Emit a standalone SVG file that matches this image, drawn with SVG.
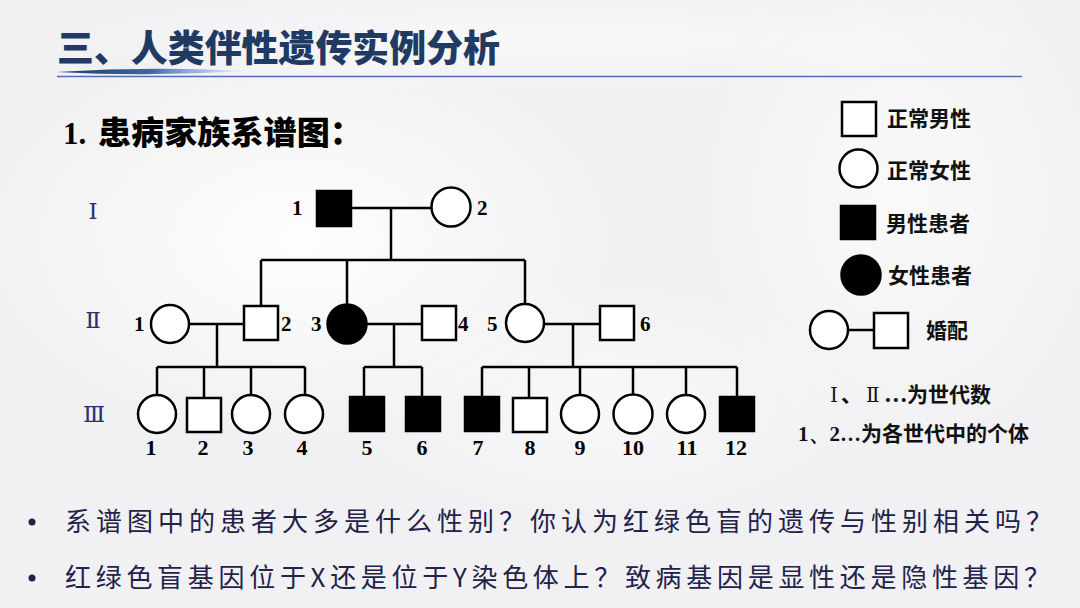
<svg xmlns="http://www.w3.org/2000/svg" width="1080" height="608" viewBox="0 0 1080 608">
<defs>
<radialGradient id="glow" cx="0.5" cy="0.5" r="0.5">
<stop offset="0" stop-color="#ffffff" stop-opacity="0.9"/>
<stop offset="1" stop-color="#ffffff" stop-opacity="0"/>
</radialGradient>
<linearGradient id="swoosh" x1="0" y1="0" x2="1" y2="0">
<stop offset="0" stop-color="#1f3a63"/>
<stop offset="0.5" stop-color="#3f66a8"/>
<stop offset="1" stop-color="#9fb6dc" stop-opacity="0.2"/>
</linearGradient>
<style>
.ln{stroke:#000;stroke-width:2.5;fill:none}
.sh{stroke:#000;stroke-width:2.5;fill:#fff}
.af{stroke:#000;stroke-width:2.5;fill:#000}
.num{font-family:"Liberation Serif","DejaVu Serif",serif;font-weight:bold;font-size:21px;fill:#000}
.n3{font-family:"Liberation Serif","DejaVu Serif",serif;font-weight:bold;font-size:22px;fill:#000;text-anchor:middle}
.gen{font-family:"DejaVu Serif","Liberation Serif",serif;font-size:23px;fill:#2e2e6e;text-anchor:middle}
.leg{font-family:"Noto Sans CJK SC",sans-serif;font-weight:700;font-size:21px;fill:#111}
.rom{font-family:"DejaVu Serif","Liberation Serif",serif;font-size:20px;fill:#111}
.q{font-family:"Noto Sans CJK SC",sans-serif;font-size:26px;fill:#22224a}
</style>
</defs>
<rect width="1080" height="608" fill="#f1f1f3"/>
<ellipse cx="300" cy="240" rx="320" ry="200" fill="url(#glow)"/>
<ellipse cx="900" cy="200" rx="200" ry="260" fill="url(#glow)" opacity="0.7"/>
<ellipse cx="600" cy="400" rx="260" ry="120" fill="url(#glow)" opacity="0.6"/>
<ellipse cx="550" cy="40" rx="500" ry="50" fill="url(#glow)" opacity="0.6"/>

<g id="title">
<text x="57" y="62" font-family="Noto Sans CJK SC, sans-serif" font-weight="900" font-size="37" fill="#1f3a63" textLength="443" lengthAdjust="spacingAndGlyphs">三、人类伴性遗传实例分析</text>
<path d="M57,72 Q150,66 245,71 Q150,77 57,72 Z" fill="url(#swoosh)"/>
<line x1="57" y1="76.5" x2="1022" y2="76.5" stroke="#4a6fb5" stroke-width="1.3"/>
</g>

<g id="subtitle">
<text x="63" y="144" font-size="31" fill="#000"><tspan font-family="Liberation Serif, serif" font-weight="bold">1. </tspan><tspan x="98" font-family="Noto Sans CJK SC, sans-serif" font-weight="900" font-size="32" textLength="265" lengthAdjust="spacingAndGlyphs">患病家族系谱图：</tspan></text>
</g>

<g id="generations">
<text class="gen" x="93" y="219">Ⅰ</text>
<text class="gen" x="93" y="328">Ⅱ</text>
<text class="gen" x="94" y="422">Ⅲ</text>
</g>

<g id="connectors">
<line class="ln" x1="352" y1="208" x2="431.5" y2="208"/>
<line class="ln" x1="391" y1="208" x2="391" y2="260"/>
<line class="ln" x1="261" y1="260" x2="525" y2="260"/>
<line class="ln" x1="261" y1="260" x2="261" y2="306"/>
<line class="ln" x1="347" y1="260" x2="347" y2="304.5"/>
<line class="ln" x1="525" y1="260" x2="525" y2="304"/>
<line class="ln" x1="189" y1="324" x2="244" y2="324"/>
<line class="ln" x1="366.5" y1="324" x2="422" y2="324"/>
<line class="ln" x1="544" y1="324" x2="600" y2="324"/>
<line class="ln" x1="217" y1="324" x2="217" y2="367"/>
<line class="ln" x1="394" y1="324" x2="394" y2="367"/>
<line class="ln" x1="573" y1="324" x2="573" y2="367"/>
<line class="ln" x1="157" y1="367" x2="305" y2="367"/>
<line class="ln" x1="157" y1="367" x2="157" y2="395"/>
<line class="ln" x1="204" y1="367" x2="204" y2="398"/>
<line class="ln" x1="251" y1="367" x2="251" y2="395"/>
<line class="ln" x1="305" y1="367" x2="305" y2="395"/>
<line class="ln" x1="364" y1="367" x2="422" y2="367"/>
<line class="ln" x1="364" y1="367" x2="364" y2="396"/>
<line class="ln" x1="422" y1="367" x2="422" y2="396"/>
<line class="ln" x1="482" y1="367" x2="737" y2="367"/>
<line class="ln" x1="482" y1="367" x2="482" y2="396"/>
<line class="ln" x1="529" y1="367" x2="529" y2="398"/>
<line class="ln" x1="580" y1="367" x2="580" y2="395"/>
<line class="ln" x1="633" y1="367" x2="633" y2="395"/>
<line class="ln" x1="686" y1="367" x2="686" y2="395"/>
<line class="ln" x1="737" y1="367" x2="737" y2="396"/>
</g>

<g id="I-1"><rect class="af" x="317" y="191" width="34" height="35"/><text class="num" x="292" y="215">1</text></g>
<g id="I-2"><circle class="sh" cx="451" cy="207" r="19.5"/><text class="num" x="477" y="215">2</text></g>

<g id="II-1"><circle class="sh" cx="170" cy="324" r="19"/><text class="num" x="134" y="331">1</text></g>
<g id="II-2"><rect class="sh" x="244" y="306" width="34" height="34"/><text class="num" x="281" y="331">2</text></g>
<g id="II-3"><circle class="af" cx="347" cy="324" r="19.5"/><text class="num" x="311" y="331">3</text></g>
<g id="II-4"><rect class="sh" x="422" y="306" width="34" height="34"/><text class="num" x="458" y="331">4</text></g>
<g id="II-5"><circle class="sh" cx="525" cy="323" r="19"/><text class="num" x="487" y="331">5</text></g>
<g id="II-6"><rect class="sh" x="600" y="306" width="34" height="34"/><text class="num" x="640" y="331">6</text></g>

<g id="III-1"><circle class="sh" cx="157" cy="414" r="19"/><text class="n3" x="151" y="455">1</text></g>
<g id="III-2"><rect class="sh" x="187" y="398" width="34" height="34"/><text class="n3" x="203" y="455">2</text></g>
<g id="III-3"><circle class="sh" cx="251" cy="414" r="19"/><text class="n3" x="248" y="455">3</text></g>
<g id="III-4"><circle class="sh" cx="304" cy="414" r="19"/><text class="n3" x="302" y="455">4</text></g>
<g id="III-5"><rect class="af" x="350" y="397" width="34" height="34"/><text class="n3" x="367" y="455">5</text></g>
<g id="III-6"><rect class="af" x="406" y="397" width="34" height="34"/><text class="n3" x="422" y="455">6</text></g>
<g id="III-7"><rect class="af" x="465" y="397" width="34" height="34"/><text class="n3" x="478" y="455">7</text></g>
<g id="III-8"><rect class="sh" x="513" y="398" width="34" height="34"/><text class="n3" x="530" y="455">8</text></g>
<g id="III-9"><circle class="sh" cx="580" cy="414" r="19"/><text class="n3" x="580" y="455">9</text></g>
<g id="III-10"><circle class="sh" cx="633" cy="414" r="19.5"/><text class="n3" x="633" y="455">10</text></g>
<g id="III-11"><circle class="sh" cx="686" cy="414" r="19"/><text class="n3" x="687" y="455">11</text></g>
<g id="III-12"><rect class="af" x="720" y="397" width="34" height="34"/><text class="n3" x="736" y="455">12</text></g>

<g id="legend">
<g id="leg-male"><rect class="sh" x="842" y="102" width="34" height="34"/><text class="leg" x="887" y="126">正常男性</text></g>
<g id="leg-female"><circle class="sh" cx="858.5" cy="168.5" r="19"/><text class="leg" x="887" y="178">正常女性</text></g>
<g id="leg-male-aff"><rect class="af" x="841" y="206" width="34" height="33"/><text class="leg" x="886" y="231">男性患者</text></g>
<g id="leg-female-aff"><circle class="af" cx="861" cy="275" r="19.5"/><text class="leg" x="888" y="283">女性患者</text></g>
<g id="leg-marriage"><circle class="sh" cx="829" cy="330" r="19"/><line class="ln" x1="848" y1="330" x2="874" y2="330"/><rect class="sh" x="874" y="313" width="34" height="35"/><text class="leg" x="926" y="338">婚配</text></g>
<g id="leg-gen"><text y="402"><tspan class="rom" x="830">Ⅰ</tspan><tspan class="leg" x="841" font-weight="400">、</tspan><tspan class="rom" x="866">Ⅱ</tspan><tspan class="leg" x="884">…为世代数</tspan></text></g>
<g id="leg-ind"><text x="798" y="441"><tspan font-family="Liberation Serif, serif" font-weight="bold" font-size="21" fill="#111">1、2…</tspan><tspan class="leg" x="861">为各世代中的个体</tspan></text></g>
</g>

<g id="questions">
<circle cx="32" cy="522" r="3.5" fill="#22224a"/>
<text class="q" x="65" y="531" textLength="987" lengthAdjust="spacing">系谱图中的患者大多是什么性别？你认为红绿色盲的遗传与性别相关吗？</text>
<circle cx="32" cy="578" r="3.5" fill="#22224a"/>
<text class="q" x="65" y="587" textLength="985" lengthAdjust="spacing">红绿色盲基因位于X还是位于Y染色体上？致病基因是显性还是隐性基因？</text>
</g>
</svg>
